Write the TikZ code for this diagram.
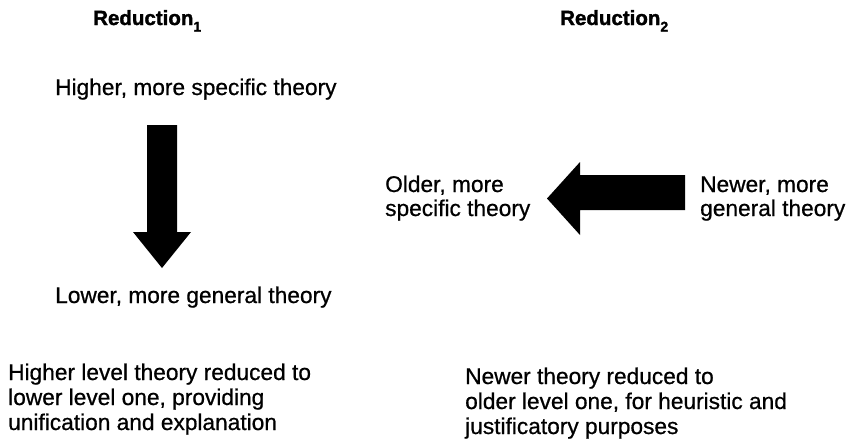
\documentclass[tikz,border=0pt]{standalone}
\usepackage{fontspec}
\setmainfont{Liberation Sans}
\newfontfamily\bodyfont[FakeBold=0.7]{Liberation Sans}
\newfontfamily\headfont[FakeBold=1.6]{Liberation Sans Bold}
\begin{document}
\begin{tikzpicture}[x=1pt,y=-1pt,
  txt/.style={anchor=base west,inner sep=0pt,font=\bodyfont\fontsize{22.7}{25}\selectfont},
  ttl/.style={anchor=base west,inner sep=0pt,font=\headfont\fontsize{20.5}{24}\selectfont},
  blockarrow/.style={fill=black,draw=none}]
\useasboundingbox[fill=white] (0,0) rectangle (853,447);

% column headings
\newcommand{\lowsub}[1]{\raisebox{-6.5pt}{\fontsize{14}{14}\selectfont #1}}
\node[ttl] (t1) at (93,25) {Reduction\lowsub{1}};
\node[ttl] (t2) at (560,25) {Reduction\lowsub{2}};

% left column: vertical reduction
\node[txt] (hi) at (55,95) {Higher, more specific theory};
\node[txt] (lo) at (55,303) {Lower, more general theory};
\fill[blockarrow] (147,125) -- (177,125) -- (177,232) -- (191,232)
  -- (162,268) -- (133,232) -- (147,232) -- cycle;

% right column: horizontal reduction
\node[txt] (old1) at (385,192) {Older, more};
\node[txt] (old2) at (385,216) {specific theory};
\node[txt] (new1) at (700,192) {Newer, more};
\node[txt] (new2) at (700,216) {general theory};
\fill[blockarrow] (685,175) -- (685,210) -- (580,210) -- (580,235)
  -- (547,198.5) -- (580,162) -- (580,175) -- cycle;

% captions
\node[txt] (c1a) at (8,380) {Higher level theory reduced to};
\node[txt] (c1b) at (8,405) {lower level one, providing};
\node[txt] (c1c) at (8,430) {unification and explanation};
\node[txt] (c2a) at (465,384) {Newer theory reduced to};
\node[txt] (c2b) at (465,409) {older level one, for heuristic and};
\node[txt] (c2c) at (465,434) {justificatory purposes};
\end{tikzpicture}
\end{document}
